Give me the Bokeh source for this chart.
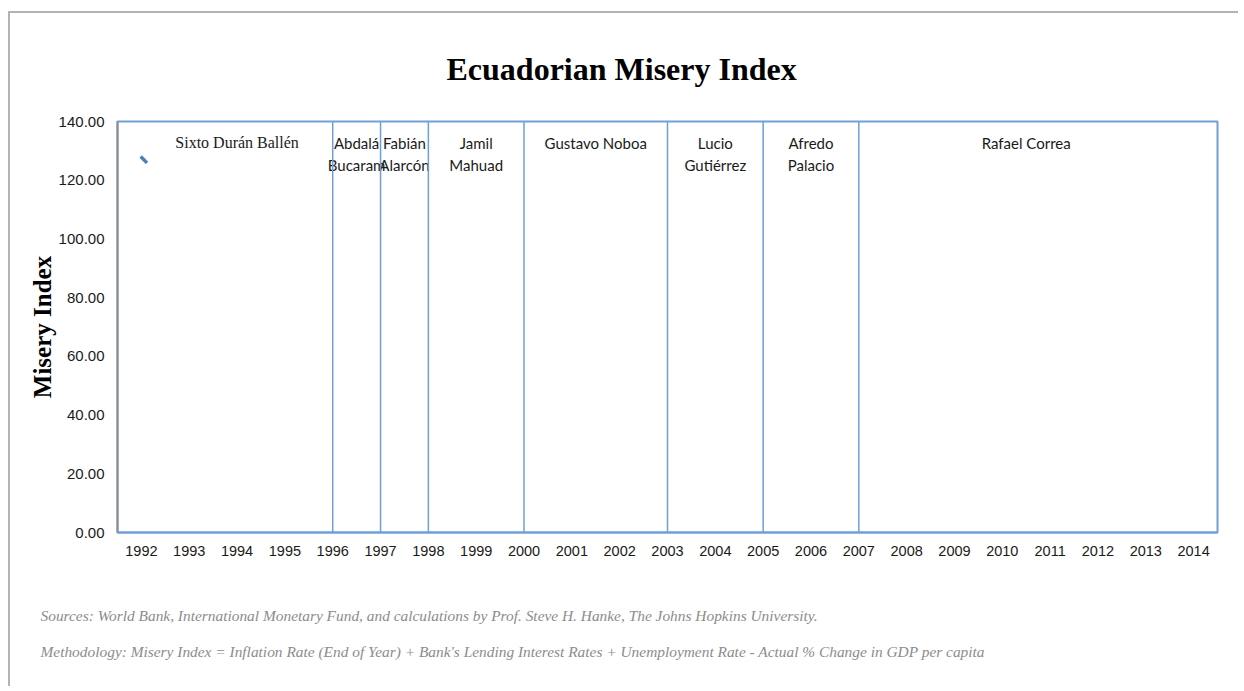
from bokeh.plotting import figure
from bokeh.models import (ColumnDataSource, Range1d, FixedTicker, NumeralTickFormatter,
                          Span, Title)
from bokeh.core.properties import value
from bokeh.embed import file_html
from bokeh.resources import INLINE

# ---- data ----
years = list(range(1992, 2015))
year_labels = [str(y) for y in years]
misery_years = [1992.05]
misery_values = [127.0]
term_bounds = [1996, 1997, 1998, 2000, 2003, 2005, 2007]
presidents = ["Sixto Durán Ballén", "Abdalá\nBucaram", "Fabián\nAlarcón", "Jamil\nMahuad",
              "Gustavo Noboa", "Lucio\nGutiérrez", "Afredo\nPalacio", "Rafael Correa"]
term_start = [1992, 1996, 1997, 1998, 2000, 2003, 2005, 2007]
term_end = [1996, 1997, 1998, 2000, 2003, 2005, 2007, 2014]
y_ticks = [0, 20, 40, 60, 80, 100, 120, 140]

title_text = "Ecuadorian Misery Index"
y_title = "Misery Index"
source_note = ("Sources: World Bank, International Monetary Fund, and calculations by "
               "Prof. Steve H. Hanke, The Johns Hopkins University.")
method_note = ("Methodology:  Misery Index = Inflation Rate (End of Year) + Bank's Lending "
               "Interest Rates + Unemployment Rate - Actual % Change in GDP per capita")

BLUE = "#6f9fd8"
GRAY = "#8f8f8f"

p = figure(width=1230, height=675, output_backend="svg", toolbar_location=None,
           x_range=Range1d(1991.5, 2014.5), y_range=Range1d(0, 140),
           min_border_left=107, min_border_right=23, min_border_top=108,
           min_border_bottom=156)
p.styles = {"margin-left": "8px", "margin-top": "11px",
            "border-left": "2px solid #b3b3b3", "border-top": "2px solid #b3b3b3"}
p.background_fill_color = "white"
p.border_fill_color = "white"
p.outline_line_color = BLUE
p.outline_line_width = 2
p.xgrid.visible = False
p.ygrid.visible = False

# title
p.title.text = title_text
p.title.align = "left"
p.title.offset = 329
p.title.text_font = "Liberation Serif"
p.title.text_font_style = "bold"
p.title.text_font_size = "32px"
p.title.text_color = "black"
p.title.standoff = 70

# axes
p.xaxis.ticker = FixedTicker(ticks=years)
p.xaxis.major_label_overrides = {y: s for y, s in zip(years, year_labels)}
p.xaxis.axis_line_color = BLUE
p.xaxis.axis_line_width = 2
p.xaxis.major_tick_line_color = None
p.xaxis.minor_tick_line_color = None
p.xaxis.major_label_standoff = 7
p.xaxis.major_label_text_font = "Liberation Sans"
p.xaxis.major_label_text_font_size = "14.5px"
p.xaxis.major_label_text_color = "#1a1a1a"

p.yaxis.ticker = FixedTicker(ticks=y_ticks)
p.yaxis.formatter = NumeralTickFormatter(format="0.00")
p.yaxis.axis_line_color = GRAY
p.yaxis.axis_line_width = 2
p.yaxis.major_tick_line_color = None
p.yaxis.minor_tick_line_color = None
p.yaxis.major_label_standoff = 7
p.yaxis.major_label_text_font = "Liberation Sans"
p.yaxis.major_label_text_font_size = "15px"
p.yaxis.major_label_text_color = "#1a1a1a"
p.yaxis.axis_label = y_title
p.yaxis.axis_label_text_font = "Liberation Serif"
p.yaxis.axis_label_text_font_style = "bold"
p.yaxis.axis_label_text_font_size = "25px"
p.yaxis.axis_label_text_color = "black"
p.yaxis.axis_label_standoff = 0

# term boundary lines
for b in term_bounds:
    p.add_layout(Span(location=b, dimension="height", line_color=BLUE, line_width=1.5))

# data point
p.scatter(misery_years, misery_values, marker="dash", size=9, angle=-0.8,
          line_color="#4a7fc1", line_width=3.5)

# president labels
mids = [(s + e) / 2 for s, e in zip(term_start, term_end)]
src_serif = ColumnDataSource(dict(x=mids[:1], y=[135.6], t=presidents[:1]))
src_sans = ColumnDataSource(dict(x=mids[1:], y=[135.6] * (len(mids) - 1), t=presidents[1:]))
p.text(x="x", y="y", text="t", source=src_serif, text_align="center", text_baseline="top",
       text_font=value("Liberation Serif"), text_font_size="16px", text_color="#1a1a1a")
p.text(x="x", y="y", text="t", source=src_sans, text_align="center", text_baseline="top",
       text_font=value("Lato"), text_font_size="15px", text_color="#1a1a1a",
       text_line_height=1.2)

# spacer between the x axis and the notes
p.add_layout(Title(text="\u00a0", text_font_size="10px", text_color="white", standoff=25),
             "below")
# notes below
for note in [source_note, method_note]:
    p.add_layout(Title(text=note, align="left", offset=-77, text_font="Liberation Serif",
                       text_font_style="italic", text_font_size="15.4px",
                       text_color="#8c8c8c", standoff=17), "below")

open("out.html", "w").write(file_html(p, INLINE))
